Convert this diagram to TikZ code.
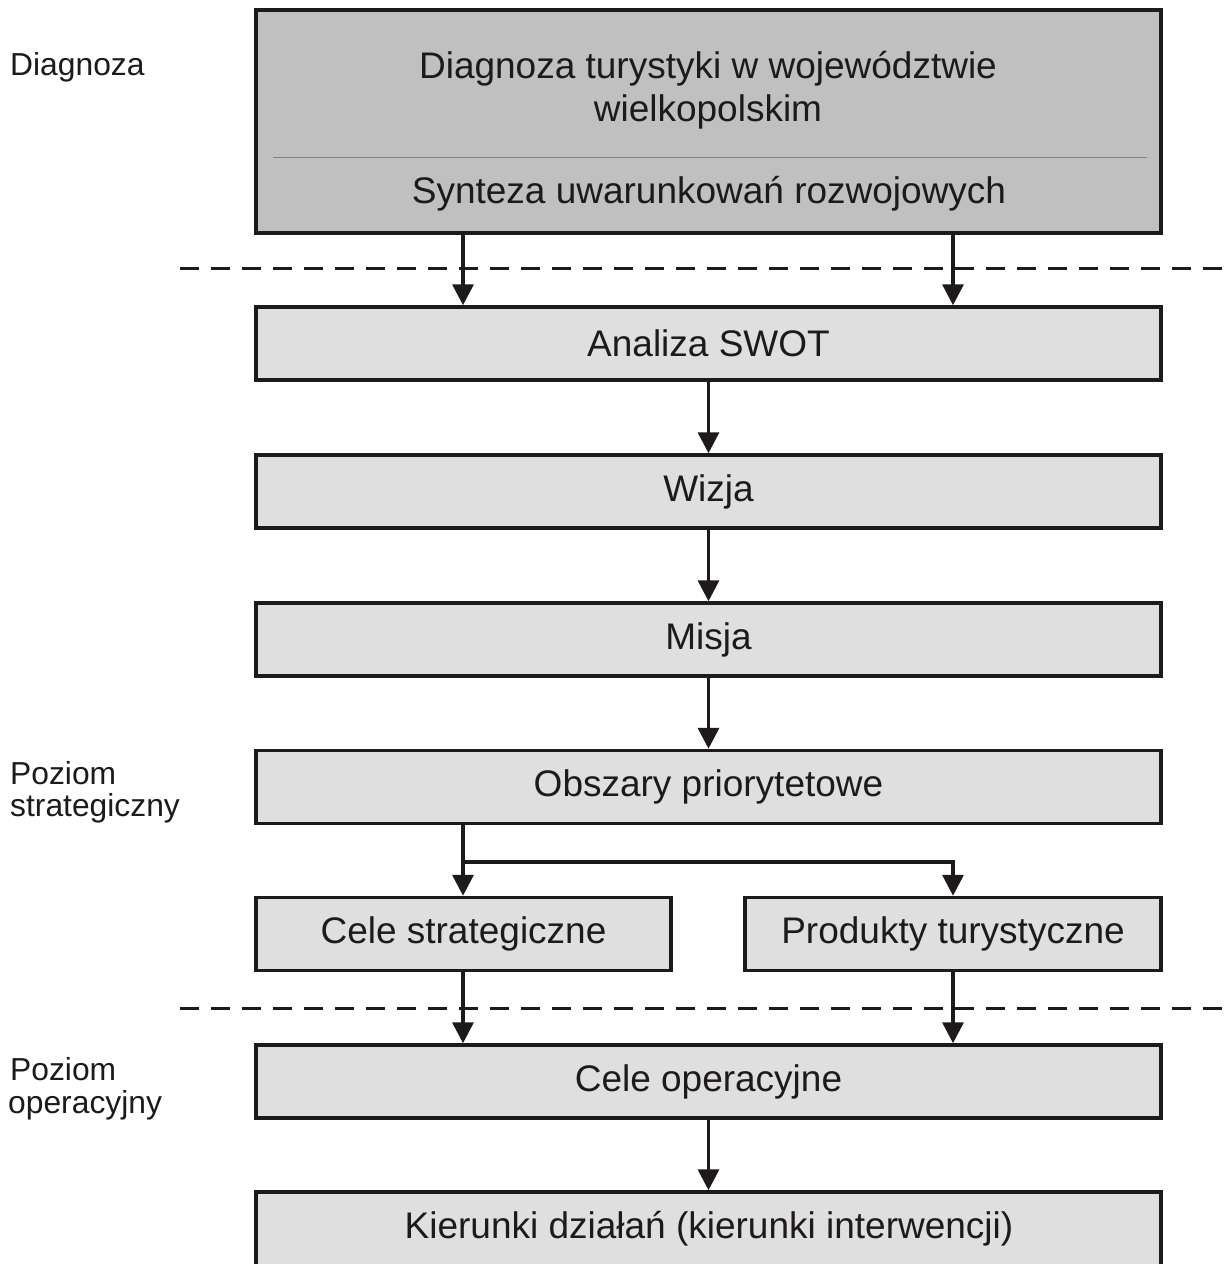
\documentclass[tikz,border=0pt]{standalone}
\usepackage{fontspec}
\setmainfont{Liberation Sans}
\usetikzlibrary{arrows.meta,calc}
\definecolor{txt}{HTML}{1E1A1A}
\definecolor{darkfill}{HTML}{C0C0C0}
\definecolor{lightfill}{HTML}{DFDFDF}
\definecolor{sepgrey}{HTML}{808080}
\tikzset{
  boxbase/.style={draw=txt, line width=3.5pt, rectangle, inner sep=0pt, text=txt,
    font=\fontsize{37}{41}\selectfont},
  lightbox/.style={boxbase, fill=lightfill, minimum height=73pt},
  darkbox/.style={boxbase, fill=darkfill},
  maintext/.style={text=txt, font=\fontsize{37}{41}\selectfont, inner sep=0pt},
  sidetext/.style={text=txt, font=\fontsize{31.8}{35}\selectfont, inner sep=0pt, anchor=west},
  arr/.style={draw=txt, line width=3.5pt, -{Triangle[length=21pt,width=21pt]}},
  sepline/.style={draw=txt, line width=3pt, dash pattern=on 19pt off 12pt},
}
\begin{document}
\begin{tikzpicture}[x=1pt,y=-1pt]
\useasboundingbox (0,0) rectangle (1229,1264);
\fill[white] (0,0) rectangle (1229,1264);
% columns
\coordinate (L) at (463,0);
\coordinate (M) at (708.5,0);
\coordinate (R) at (953,0);
% top box
\node[darkbox, minimum width=905pt, minimum height=223pt] (diag) at (708.5,121.5) {};
\node[maintext, align=center] (t1) at (708,90) {Diagnoza turystyki w województwie\\[2pt]wielkopolskim};
\node[maintext] (t2) at (709,194) {Synteza uwarunkowań rozwojowych};
\coordinate (s1) at (273,157);
\coordinate (s2) at (1147,157);
\draw[sepgrey, line width=1pt] (s1) -- (s2);
% boxes
\node[lightbox, minimum width=905pt] (swot) at (708.5,343.5) {Analiza SWOT};
\node[lightbox, minimum width=905pt] (wizja) at (708.5,491.5) {Wizja};
\node[lightbox, minimum width=905pt] (misja) at (708.5,639.5) {Misja};
\node[lightbox, minimum width=905pt] (obsz) at (708.5,787) {Obszary priorytetowe};
\node[lightbox, minimum width=415pt] (cele) at (463.5,934) {Cele strategiczne};
\node[lightbox, minimum width=416pt] (prod) at (953,934) {Produkty turystyczne};
\node[lightbox, minimum width=905pt] (oper) at (708.5,1081.5) {Cele operacyjne};
\node[lightbox, minimum width=905pt, minimum height=76pt] (kier) at (708.5,1230) {};
\node[maintext] (kiert) at (709,1229) {Kierunki działań (kierunki interwencji)};
% dashed separators
\coordinate (d1a) at (180,268);
\coordinate (d1b) at (1229,268);
\coordinate (d2a) at (180,1008);
\coordinate (d2b) at (1229,1008);
\draw[sepline] (d1a) -- (d1b);
\draw[sepline] (d2a) -- (d2b);
% connectors
\draw[arr] (diag.south -| L) -- (swot.north -| L);
\draw[arr] (diag.south -| R) -- (swot.north -| R);
\draw[arr] (swot.south -| M) -- (wizja.north -| M);
\draw[arr] (wizja.south -| M) -- (misja.north -| M);
\draw[arr] (misja.south -| M) -- (obsz.north -| M);
\draw[arr] (obsz.south -| L) -- (cele.north -| L);
\coordinate (br) at (463,862);
\draw[arr] (br) -- (br -| R) -- (prod.north -| R);
\draw[arr] (cele.south -| L) -- (oper.north -| L);
\draw[arr] (prod.south -| R) -- (oper.north -| R);
\draw[arr] (oper.south -| M) -- (kier.north -| M);
% side labels
\node[sidetext] (lab1) at (10,67) {Diagnoza};
\node[sidetext] (lab2) at (10,773) {Poziom};
\node[sidetext] (lab3) at (10,808) {strategiczny};
\node[sidetext] (lab4) at (10,1069) {Poziom};
\node[sidetext] (lab5) at (8,1105) {operacyjny};
\end{tikzpicture}
\end{document}
